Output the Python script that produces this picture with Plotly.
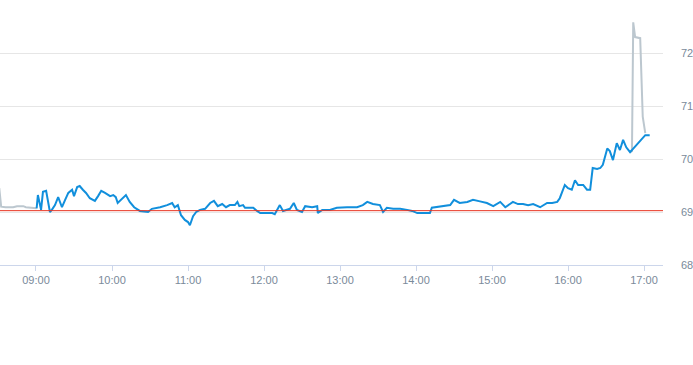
import plotly.graph_objects as go

DAY = "2024-01-02 "

pre_times = ["08:31:00", "08:32:30", "08:36:00", "08:42:00", "08:45:00", "08:50:00", "08:52:00", "09:00:30"]
pre_values = [69.45, 69.10, 69.09, 69.09, 69.11, 69.11, 69.09, 69.07]

main_times = [
    "09:00:30", "09:01:30", "09:04:00", "09:05:30", "09:08:00", "09:11:00", "09:12:30", "09:15:00",
    "09:17:30", "09:20:30", "09:23:00", "09:25:30", "09:28:30", "09:30:00", "09:32:30", "09:34:30",
    "09:37:00", "09:39:30", "09:42:30", "09:46:30", "09:49:00", "09:51:30", "09:54:30", "09:58:30",
    "10:01:00", "10:03:00", "10:04:30", "10:08:00", "10:11:00", "10:14:00", "10:17:30", "10:22:00",
    "10:28:30", "10:31:30", "10:38:00", "10:43:30", "10:47:30", "10:49:30", "10:52:00", "10:54:30",
    "10:57:30", "11:00:00", "11:01:30", "11:04:00", "11:06:30", "11:09:30", "11:13:30", "11:17:30",
    "11:20:30", "11:23:30", "11:27:00", "11:30:00", "11:33:00", "11:37:00", "11:39:00", "11:40:30",
    "11:43:30", "11:45:00", "11:51:30", "11:54:30", "11:57:00", "12:01:00", "12:06:30", "12:08:30",
    "12:12:30", "12:15:00", "12:20:30", "12:23:30", "12:26:00", "12:30:00", "12:32:30", "12:38:00",
    "12:42:00", "12:42:30", "12:46:00", "12:52:00", "12:57:30", "13:05:30", "13:13:30", "13:18:00",
    "13:21:30", "13:26:00", "13:31:30", "13:34:00", "13:37:00", "13:42:00", "13:47:30", "13:53:00",
    "13:57:00", "14:01:00", "14:07:00", "14:11:00", "14:12:30", "14:16:30", "14:21:30", "14:27:00",
    "14:30:00", "14:34:30", "14:40:30", "14:45:00", "14:50:30", "14:56:00", "15:01:00", "15:06:30",
    "15:10:30", "15:16:30", "15:20:30", "15:24:30", "15:28:30", "15:32:30", "15:38:00", "15:43:30",
    "15:47:30", "15:51:30", "15:53:30", "15:57:30", "16:00:00", "16:03:00", "16:05:30", "16:08:00",
    "16:12:00", "16:15:00", "16:17:30", "16:19:30", "16:23:00", "16:25:30", "16:27:30", "16:31:00",
    "16:33:00", "16:35:30", "16:38:30", "16:41:00", "16:43:30", "16:46:00", "16:49:00", "17:01:00",
    "17:04:30",
]
main_values = [
    69.07, 69.32, 69.04, 69.38, 69.40, 69.00, 69.04, 69.13,
    69.28, 69.09, 69.23, 69.36, 69.42, 69.30, 69.47, 69.49,
    69.42, 69.36, 69.26, 69.21, 69.30, 69.40, 69.36, 69.30,
    69.32, 69.28, 69.17, 69.26, 69.32, 69.19, 69.09, 69.02,
    69.00, 69.06, 69.09, 69.13, 69.17, 69.09, 69.13, 68.94,
    68.85, 68.81, 68.75, 68.92, 69.00, 69.04, 69.06, 69.17,
    69.21, 69.11, 69.15, 69.09, 69.13, 69.13, 69.19, 69.11,
    69.13, 69.08, 69.08, 69.02, 68.98, 68.98, 68.98, 68.96,
    69.13, 69.02, 69.06, 69.17, 69.04, 69.00, 69.11, 69.09,
    69.11, 68.98, 69.04, 69.04, 69.08, 69.09, 69.09, 69.13,
    69.19, 69.15, 69.13, 69.00, 69.08, 69.06, 69.06, 69.04,
    69.02, 68.98, 68.98, 68.98, 69.08, 69.09, 69.11, 69.13,
    69.23, 69.17, 69.19, 69.23, 69.20, 69.17, 69.11, 69.19,
    69.09, 69.19, 69.15, 69.15, 69.13, 69.15, 69.09, 69.17,
    69.17, 69.19, 69.26, 69.51, 69.45, 69.42, 69.60, 69.51,
    69.51, 69.42, 69.42, 69.83, 69.81, 69.83, 69.89, 70.20,
    70.15, 69.98, 70.30, 70.17, 70.36, 70.22, 70.13, 70.45,
    70.45,
]

post_times = ["16:49:00", "16:50:30", "16:51:30", "16:53:00", "16:57:00", "16:58:30", "16:59:00", "17:01:00"]
post_values = [70.13, 70.15, 72.58, 72.30, 72.28, 71.11, 70.80, 70.49]

prev_close = 69.025

y_ticks = [68, 69, 70, 71, 72]
y_tick_labels = ["68", "69", "70", "71", "72"]
x_ticks = ["09:00", "10:00", "11:00", "12:00", "13:00", "14:00", "15:00", "16:00", "17:00"]

fig = go.Figure()
fig.add_trace(go.Scatter(x=[DAY + t for t in pre_times], y=pre_values, mode="lines",
                         line=dict(color="#bcc7cf", width=2), hoverinfo="skip"))
fig.add_trace(go.Scatter(x=[DAY + t for t in post_times], y=post_values, mode="lines",
                         line=dict(color="#bcc7cf", width=2), hoverinfo="skip"))
fig.add_trace(go.Scatter(x=[DAY + t for t in main_times], y=main_values, mode="lines",
                         line=dict(color="#118fdc", width=2)))
fig.add_hline(y=prev_close, line=dict(color="#e8321f", width=1))

label_font = dict(family="Liberation Sans, Arial, sans-serif", size=11, color="#7a8a9a")

fig.update_layout(
    width=693, height=365,
    margin=dict(l=0, r=30, t=0, b=100, autoexpand=False),
    paper_bgcolor="white", plot_bgcolor="white",
    showlegend=False,
    xaxis=dict(
        range=[DAY + "08:31:35", DAY + "17:15:00"],
        tickvals=[DAY + t + ":00" for t in x_ticks], ticktext=x_ticks,
        showgrid=False, zeroline=False,
        showline=True, linecolor="#ccd6eb", linewidth=1,
        ticks="outside", ticklen=5, tickcolor="#ccd6eb",
        tickfont=label_font, automargin=False,
    ),
    yaxis=dict(
        range=[68, 73], side="right",
        tickvals=y_ticks, ticktext=y_tick_labels,
        showgrid=True, gridcolor="#e6e6e6", gridwidth=1,
        zeroline=False, showline=False, ticks="",
        ticklabelstandoff=17,
        tickfont=label_font, automargin=False,
    ),
)

fig.write_html("out.html", config={"displayModeBar": False},
               post_script="document.body.style.margin='0';")
